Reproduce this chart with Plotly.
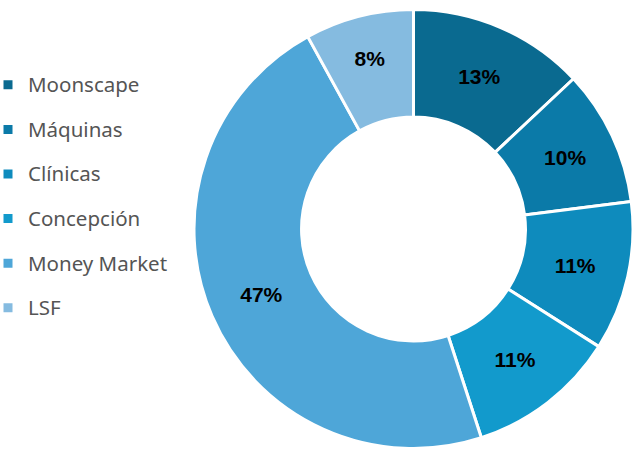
import plotly.graph_objects as go

categories = ["Moonscape", "Máquinas", "Clínicas", "Concepción", "Money Market", "LSF"]
values = [13, 10, 11, 11, 47, 8]
colors = ["#0a6a90", "#0b7aa8", "#0e8bbd", "#129acc", "#4ea6d8", "#85bbe0"]

W, H = 633, 450
legend_labels = ['<span style="font-size:20.5px;baseline-shift:5px">%s</span>' % c for c in categories]

fig = go.Figure(go.Pie(
    labels=legend_labels,
    values=values,
    sort=False,
    direction="clockwise",
    rotation=0,
    hole=0.51,
    marker=dict(colors=colors, line=dict(color="white", width=3)),
    texttemplate="%{percent:.0%}",
    textposition="inside",
    insidetextorientation="horizontal",
    textfont=dict(family="Liberation Sans", size=21, color="black", weight="bold"),
    domain=dict(x=[194 / W, 1.0], y=[1.5 / H, 440.5 / H]),
    hoverinfo="none",
))

fig.update_layout(
    width=W, height=H,
    margin=dict(l=0, r=0, t=0, b=0, autoexpand=False),
    paper_bgcolor="white",
    plot_bgcolor="white",
    showlegend=True,
    legend=dict(
        x=-12 / W, xanchor="left",
        y=1 - 57.5 / H, yanchor="top",
        font=dict(family="Noto Sans", size=32, color="#555555"),
        bgcolor="rgba(0,0,0,0)",
        borderwidth=0,
        itemclick=False,
    ),
)

fig.write_html(
    "out.html",
    config={"displayModeBar": False},
    post_script="document.body.style.margin='0';document.body.style.overflow='hidden';",
)
